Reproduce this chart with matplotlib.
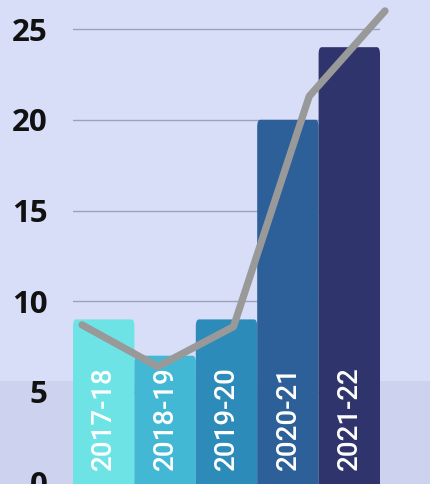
import matplotlib
matplotlib.use("Agg")
import matplotlib.pyplot as plt
from matplotlib.patches import Rectangle, FancyBboxPatch

# data
seasons = ["2017-18", "2018-19", "2019-20", "2020-21", "2021-22"]
bar_values = [9, 7, 9, 20, 24]
line_values = [8.7, 6.4, 8.6, 21.3, 26.0]
yticks = [0, 5, 10, 15, 20, 25]
bar_colors = ["#6ee3e6", "#42b8d5", "#2d8bba", "#2d5f98", "#30346d"]

W, H = 430, 484
fig = plt.figure(figsize=(W / 100, H / 100), dpi=100)
fig.patch.set_facecolor("#d8def7")
# slightly darker band at the bottom of the background
band = Rectangle((0, 0), 1, (H - 381) / H, transform=fig.transFigure,
                 facecolor="#cdd3ef", edgecolor="none", zorder=-5)
fig.add_artist(band)

ax = fig.add_axes([73 / W, 0, 307 / W, 1])
ax.patch.set_alpha(0)
ax.set_xlim(-0.5, 4.5)
ax.set_ylim(-0.07, 26.6)

for y in yticks[1:]:
    ax.axhline(y, color="#9ca1bb", lw=1.0, zorder=1)

for i, (v, c) in enumerate(zip(bar_values, bar_colors)):
    p = FancyBboxPatch((i - 0.5, -2), 1.0, v + 2,
                       boxstyle="round,pad=0,rounding_size=0.05",
                       mutation_aspect=8, facecolor=c, edgecolor="none", zorder=2)
    ax.add_patch(p)
    ax.text(i, 0.72, seasons[i], rotation=90, ha="center", va="bottom",
            color="white", fontsize=20, family="Roboto", fontweight="medium",
            zorder=3)

ax.set_yticks(yticks)
ax.set_yticklabels([str(t) for t in yticks], fontsize=22.5, fontweight="bold",
                   family="Open Sans", color="#111111")
ax.tick_params(axis="y", length=0, pad=18.5)
ax.set_xticks([])
for s in ax.spines.values():
    s.set_visible(False)

# line sits on its own x scale (points at 82..385 px)
lx = ax.twiny()
lx.set_xlim(-9 / 75.75, 4 - 5 / 75.75)
lx.set_ylim(ax.get_ylim())
lx.plot(range(len(line_values)), line_values, color="#999999", lw=5.2,
        solid_capstyle="round", solid_joinstyle="round", clip_on=False, zorder=4)
lx.set_xticks([])
lx.patch.set_alpha(0)
for s in lx.spines.values():
    s.set_visible(False)

fig.savefig("out.png", dpi=100, facecolor=fig.get_facecolor())
